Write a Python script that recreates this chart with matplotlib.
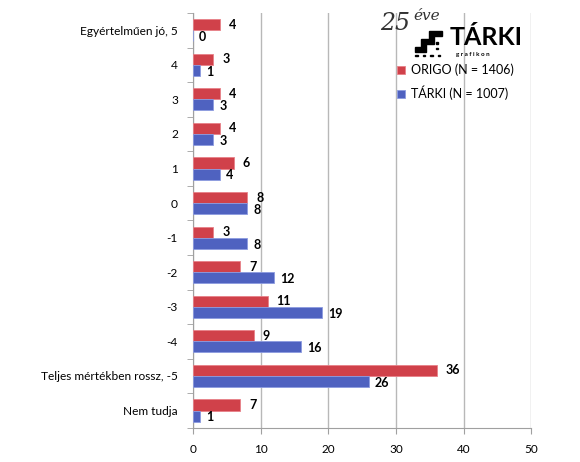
import matplotlib.pyplot as plt
import numpy as np
from matplotlib.patches import Rectangle, Polygon

categories = ["Egyértelműen jó, 5", "4", "3", "2", "1", "0", "-1", "-2", "-3", "-4",
              "Teljes mértékben rossz, -5", "Nem tudja"]
origo = [4, 3, 4, 4, 6, 8, 3, 7, 11, 9, 36, 7]
tarki = [0, 1, 3, 3, 4, 8, 8, 12, 19, 16, 26, 1]
series_labels = ["ORIGO (N = 1406)", "TÁRKI (N = 1007)"]
xticks = [0, 10, 20, 30, 40, 50]

plt.rcParams['font.family'] = ['Lato', 'DejaVu Sans']

red = "#D0414A"
blue = "#4F62C0"

fig = plt.figure(figsize=(5.8, 4.62), dpi=100)
ax = fig.add_axes([0.333, 0.074, 0.583, 0.898])

y = np.arange(len(categories))
h = 0.32
ax.barh(y - h / 2, origo, height=h, color=red, edgecolor="#E88088", linewidth=0.6,
        label=series_labels[0], zorder=3)
ax.barh(y + h / 2, tarki, height=h, color=blue, edgecolor="#8C9BE0", linewidth=0.6,
        label=series_labels[1], zorder=3)

for yi, v in zip(y, origo):
    ax.text(v + 1.3, yi - h / 2, str(v), va="center", ha="left", fontsize=9, fontweight="bold")
for yi, v in zip(y, tarki):
    ax.text(v + 0.9, yi + h / 2 + 0.04, str(v), va="center", ha="left", fontsize=9, fontweight="bold")

ax.set_xlim(0, 50)
ax.set_ylim(len(categories) - 0.5, -0.5)
ax.set_xticks(xticks)
ax.set_yticks(y)
ax.set_yticklabels(categories, fontsize=8.6)
ax.set_yticks(np.arange(-0.5, len(categories), 1), minor=True)
ax.tick_params(axis="y", which="major", length=0, pad=11)
ax.tick_params(axis="y", which="minor", length=4, color="#A0A0A0")
ax.tick_params(axis="x", length=4, color="#A0A0A0", labelsize=8.5, pad=8)
ax.xaxis.grid(True, color="#B8B8B8", linewidth=1.0, zorder=0)
for s in ["top", "right"]:
    ax.spines[s].set_visible(False)
for s in ["left", "bottom"]:
    ax.spines[s].set_color("#A0A0A0")

ax.legend(loc="upper left", bbox_to_anchor=(0.57, 0.905), frameon=False, fontsize=9,
          handlelength=0.6, handleheight=0.6, handletextpad=0.5, labelspacing=0.75)

# logo
fig.text(0.655, 0.925, "25", fontsize=17, fontstyle="italic", family="DejaVu Serif",
         color="#333333", va="bottom")
fig.text(0.712, 0.950, "éve", fontsize=11, fontstyle="italic", family="DejaVu Serif",
         color="#333333", va="bottom")
fig.text(0.775, 0.895, "TÁRKI", fontsize=18, fontweight="bold", color="black", va="bottom")
fig.text(0.787, 0.876, "g r a f i k o n", fontsize=4.5, fontweight="bold", color="black", va="bottom")
steps = Polygon([[0.716, 0.887], [0.735, 0.887], [0.735, 0.905], [0.748, 0.905], [0.748, 0.922],
                 [0.762, 0.922], [0.762, 0.933], [0.740, 0.933], [0.740, 0.915],
                 [0.726, 0.915], [0.726, 0.898], [0.716, 0.898]], closed=True,
                transform=fig.transFigure, color="black")
fig.patches.append(steps)
for dx in range(4):
    fig.patches.append(Rectangle((0.716 + dx * 0.013, 0.878), 0.004, 0.004,
                                 transform=fig.transFigure, color="black"))
for dy in range(2):
    fig.patches.append(Rectangle((0.752, 0.893 + dy * 0.012), 0.004, 0.004,
                                 transform=fig.transFigure, color="black"))

fig.savefig("out.png", dpi=100)
